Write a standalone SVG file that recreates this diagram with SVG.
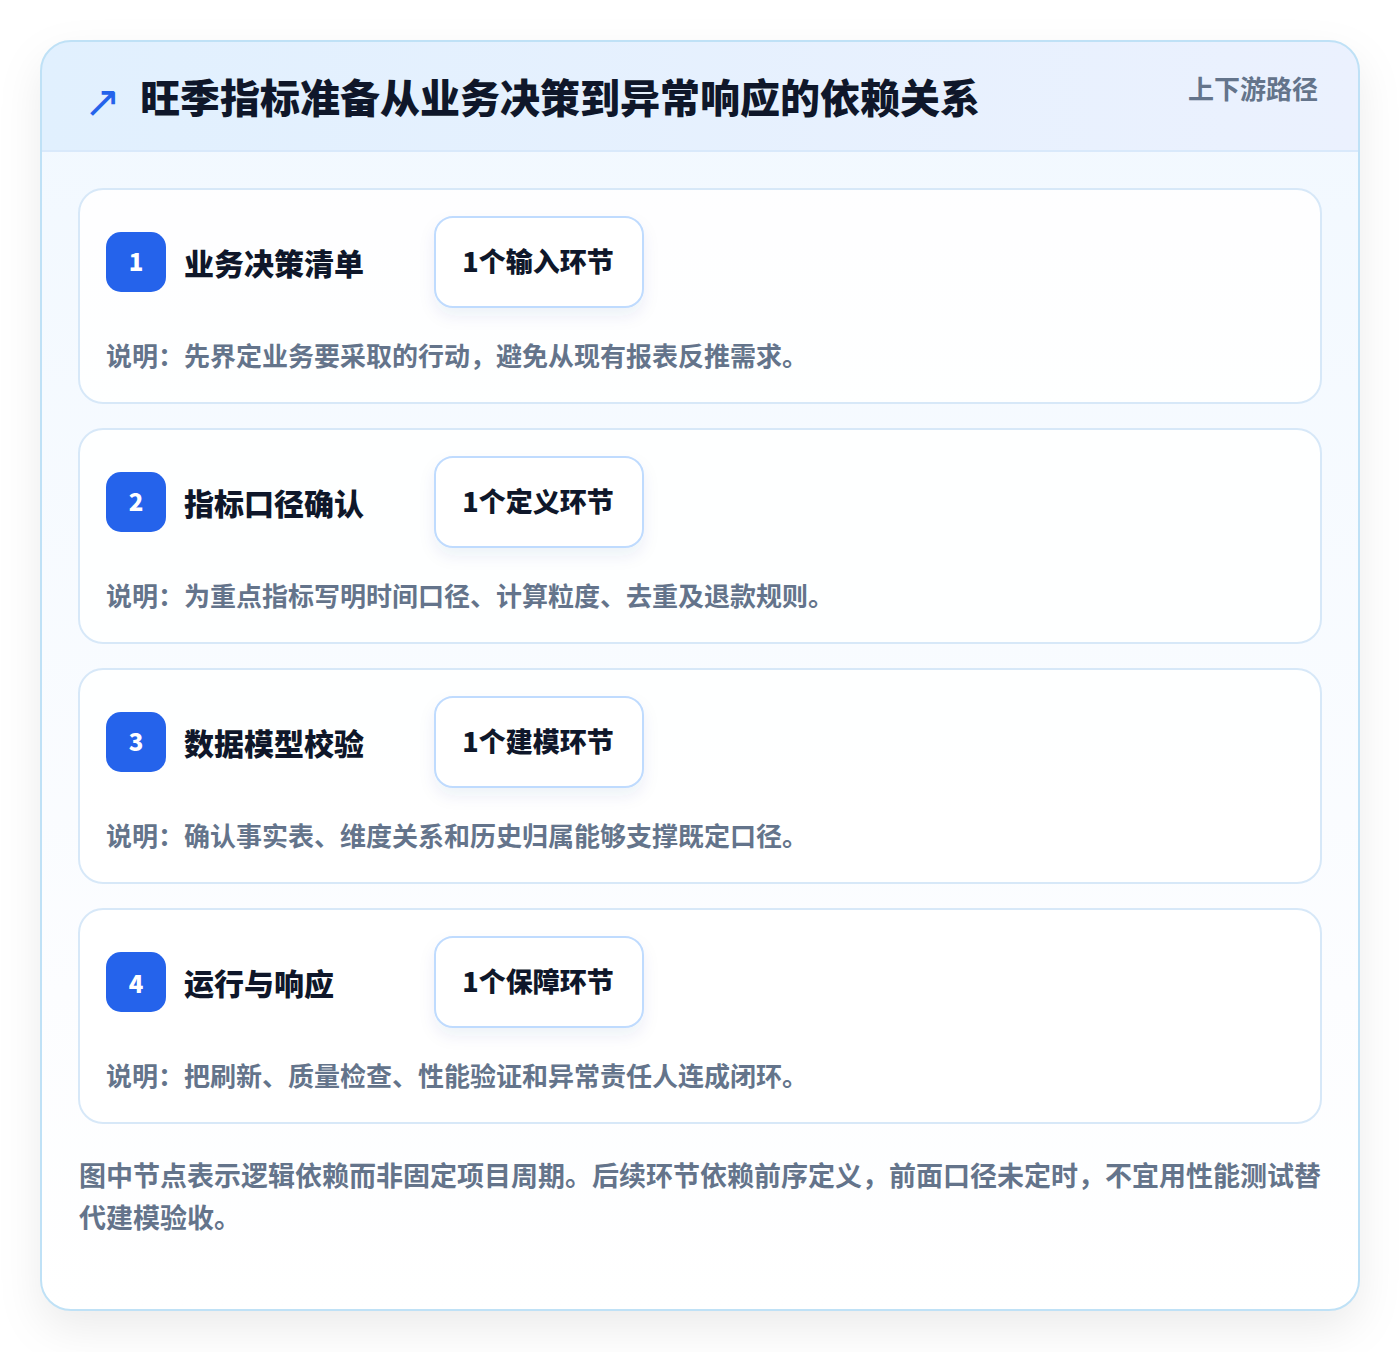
<svg xmlns="http://www.w3.org/2000/svg" width="1400" height="1352" viewBox="0 0 1400 1352">
  <defs>
    <linearGradient id="hdr" x1="0" y1="0" x2="1" y2="0">
      <stop offset="0" stop-color="#e1f0fe"/>
      <stop offset="1" stop-color="#ebf1fe"/>
    </linearGradient>
    <linearGradient id="body" x1="0" y1="0" x2="0" y2="1">
      <stop offset="0" stop-color="#f1f8ff"/>
      <stop offset="0.75" stop-color="#fcfdff"/>
      <stop offset="1" stop-color="#ffffff"/>
    </linearGradient>
    <filter id="outerShadow" x="-10%" y="-10%" width="120%" height="125%">
      <feDropShadow dx="0" dy="18" stdDeviation="22" flood-color="#0f172a" flood-opacity="0.08"/>
    </filter>
    <filter id="pillShadow" x="-20%" y="-30%" width="140%" height="170%">
      <feDropShadow dx="0" dy="8" stdDeviation="8" flood-color="#1e3a8a" flood-opacity="0.07"/>
    </filter>
    <clipPath id="cardClip">
      <rect x="41" y="41" width="1318" height="1269" rx="30"/>
    </clipPath>
  </defs>
  <style>
    text { font-family: "Noto Sans CJK SC", "Noto Sans", "Liberation Sans", sans-serif; font-weight: 700; }
    .title { font-size: 40px; fill: #0f172a; font-weight: 900; }
    .tag { font-size: 26px; fill: #64748b; }
    .card { fill: #ffffff; fill-opacity: 0.85; stroke: #d7e8f8; stroke-width: 2; }
    .badge { fill: #2563eb; }
    .num { font-size: 24px; fill: #ffffff; font-weight: 900; }
    .ctitle { font-size: 30px; fill: #0f172a; font-weight: 900; }
    .pill { fill: #ffffff; stroke: #bfdbfe; stroke-width: 2; }
    .ptext { font-size: 27px; fill: #0f172a; font-weight: 900; }
    .desc { font-size: 26px; fill: #64748b; }
    .foot { font-size: 27px; fill: #64748b; }
  </style>

  <rect width="1400" height="1352" fill="#ffffff"/>

  <g id="frame">
    <rect x="41" y="41" width="1318" height="1269" rx="30" fill="url(#body)" filter="url(#outerShadow)"/>
    <rect x="41" y="41" width="1318" height="110" fill="url(#hdr)" clip-path="url(#cardClip)"/>
    <line x1="42" y1="151" x2="1358" y2="151" stroke="#d9e9fb" stroke-width="2"/>
    <rect x="41" y="41" width="1318" height="1269" rx="30" fill="none" stroke="#bfe1f6" stroke-width="2"/>
  </g>

  <g id="header">
    <text x="84" y="117" style="font-family: 'DejaVu Sans', sans-serif; font-weight: 400; font-size: 44px; fill: #2563eb;">↗</text>
    <text class="title" x="140" y="113">旺季指标准备从业务决策到异常响应的依赖关系</text>
    <text class="tag" x="1318" y="99" text-anchor="end">上下游路径</text>
  </g>

  <g id="connectors"></g>

  <g id="node1">
    <rect class="card" x="79" y="189" width="1242" height="214" rx="24"/>
    <rect class="badge" x="106" y="232" width="60" height="60" rx="15"/>
    <text class="num" x="136" y="271" text-anchor="middle">1</text>
    <text class="ctitle" x="184" y="275">业务决策清单</text>
    <rect class="pill" x="435" y="217" width="208" height="90" rx="18" filter="url(#pillShadow)"/>
    <text class="ptext" x="538" y="272" text-anchor="middle">1个输入环节</text>
    <text class="desc" x="106" y="366">说明：先界定业务要采取的行动，避免从现有报表反推需求。</text>
  </g>

  <g id="node2">
    <rect class="card" x="79" y="429" width="1242" height="214" rx="24"/>
    <rect class="badge" x="106" y="472" width="60" height="60" rx="15"/>
    <text class="num" x="136" y="511" text-anchor="middle">2</text>
    <text class="ctitle" x="184" y="515">指标口径确认</text>
    <rect class="pill" x="435" y="457" width="208" height="90" rx="18" filter="url(#pillShadow)"/>
    <text class="ptext" x="538" y="512" text-anchor="middle">1个定义环节</text>
    <text class="desc" x="106" y="606">说明：为重点指标写明时间口径、计算粒度、去重及退款规则。</text>
  </g>

  <g id="node3">
    <rect class="card" x="79" y="669" width="1242" height="214" rx="24"/>
    <rect class="badge" x="106" y="712" width="60" height="60" rx="15"/>
    <text class="num" x="136" y="751" text-anchor="middle">3</text>
    <text class="ctitle" x="184" y="755">数据模型校验</text>
    <rect class="pill" x="435" y="697" width="208" height="90" rx="18" filter="url(#pillShadow)"/>
    <text class="ptext" x="538" y="752" text-anchor="middle">1个建模环节</text>
    <text class="desc" x="106" y="846">说明：确认事实表、维度关系和历史归属能够支撑既定口径。</text>
  </g>

  <g id="node4">
    <rect class="card" x="79" y="909" width="1242" height="214" rx="24"/>
    <rect class="badge" x="106" y="952" width="60" height="60" rx="15"/>
    <text class="num" x="136" y="993" text-anchor="middle">4</text>
    <text class="ctitle" x="184" y="995">运行与响应</text>
    <rect class="pill" x="435" y="937" width="208" height="90" rx="18" filter="url(#pillShadow)"/>
    <text class="ptext" x="538" y="992" text-anchor="middle">1个保障环节</text>
    <text class="desc" x="106" y="1086">说明：把刷新、质量检查、性能验证和异常责任人连成闭环。</text>
  </g>

  <g id="footer">
    <text class="foot" x="79" y="1186">图中节点表示逻辑依赖而非固定项目周期。后续环节依赖前序定义，前面口径未定时，不宜用性能测试替</text>
    <text class="foot" x="79" y="1228">代建模验收。</text>
  </g>
</svg>
